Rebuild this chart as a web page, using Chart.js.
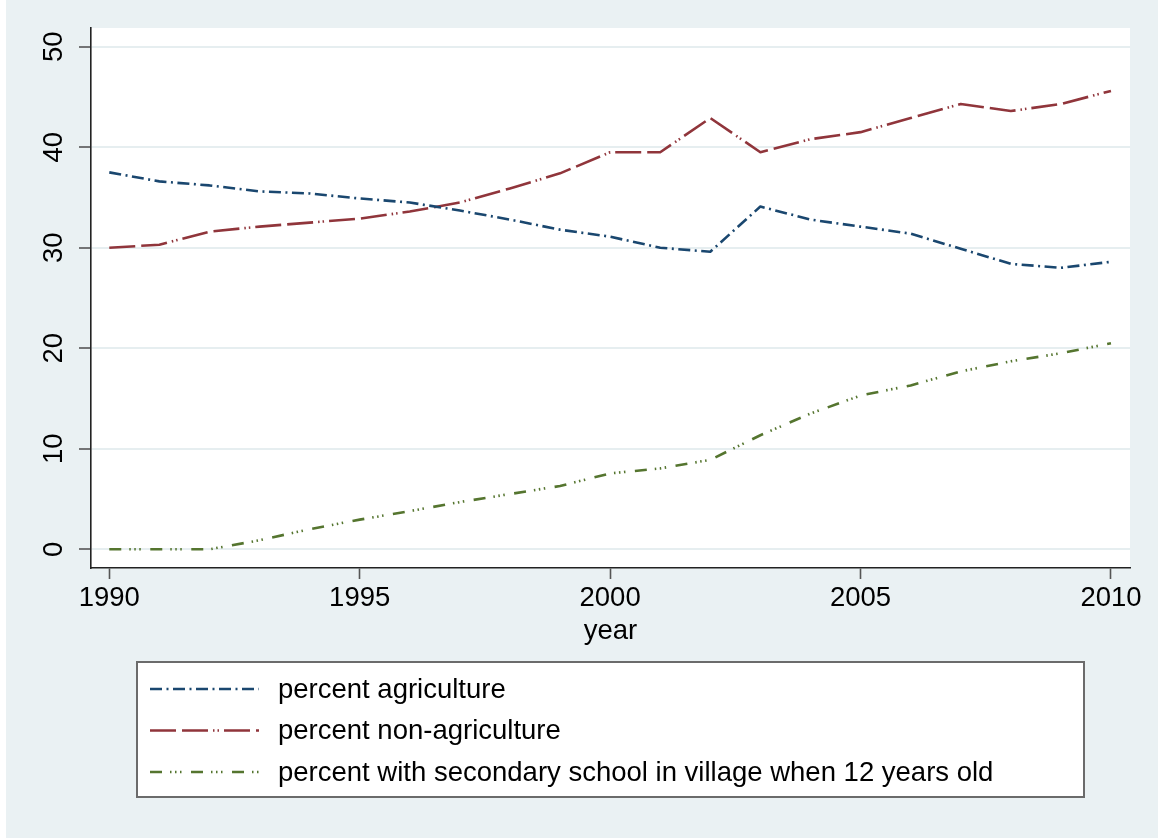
<!DOCTYPE html>
<html>
<head>
<meta charset="utf-8">
<script src="https://cdn.jsdelivr.net/npm/chart.js@4.4.1/dist/chart.umd.min.js"></script>
<style>
  html, body { margin: 0; padding: 0; background: #eaf1f3; }
  canvas { display: block; }
</style>
</head>
<body>
<canvas id="chart" width="1158" height="838"></canvas>
<script>
// Survey years
const years = [1990, 1991, 1992, 1993, 1994, 1995, 1996, 1997, 1998, 1999, 2000,
               2001, 2002, 2003, 2004, 2005, 2006, 2007, 2008, 2009, 2010];

// Shares (percent) by year
const pctAgriculture = [37.5, 36.6, 36.2, 35.6, 35.4, 34.9, 34.5, 33.7, 32.8, 31.8, 31.1,
                        30.0, 29.6, 34.1, 32.8, 32.1, 31.4, 29.9, 28.4, 28.0, 28.6];
const pctNonAgriculture = [30.0, 30.3, 31.6, 32.1, 32.5, 32.9, 33.6, 34.5, 35.9, 37.4, 39.5,
                           39.5, 42.9, 39.5, 40.8, 41.5, 42.9, 44.3, 43.6, 44.3, 45.6];
const pctSecondarySchool = [0, 0, 0, 0.9, 2.0, 2.95, 3.8, 4.7, 5.5, 6.3, 7.55,
                            8.05, 8.9, 11.35, 13.5, 15.3, 16.3, 17.7, 18.7, 19.5, 20.5];

// Axis ticks
const xTicks = [1990, 1995, 2000, 2005, 2010];
const yTicks = [0, 10, 20, 30, 40, 50];

const seriesLabels = [
  'percent agriculture',
  'percent non-agriculture',
  'percent with secondary school in village when 12 years old'
];

const FONT = "'Liberation Sans', Arial, Helvetica, sans-serif";
const FONT_SIZE = 27.5;
const BG = '#eaf1f3';

const toPoints = vals => years.map((yr, i) => ({ x: yr, y: vals[i] }));

// Page background and white plot region
const backdrop = {
  id: 'backdrop',
  beforeDraw(chart) {
    const { ctx, chartArea: a, width, height } = chart;
    ctx.save();
    ctx.fillStyle = BG;
    ctx.fillRect(0, 0, width, height);
    ctx.fillStyle = '#ffffff';
    ctx.fillRect(0, 0, 6, height);
    ctx.fillRect(a.left, a.top, a.right - a.left, a.bottom - a.top);
    ctx.restore();
  }
};

// Framed legend below the axis title, one entry per row
const boxedLegend = {
  id: 'boxedLegend',
  afterDraw(chart) {
    const { ctx, chartArea: a } = chart;
    const cx = (a.left + a.right) / 2;
    const w = 947, h = 135;
    const x0 = Math.round(cx - w / 2), y0 = 662;
    ctx.save();
    ctx.fillStyle = '#ffffff';
    ctx.fillRect(x0, y0, w, h);
    ctx.strokeStyle = '#6b6b6b';
    ctx.lineWidth = 2;
    ctx.strokeRect(x0, y0, w, h);
    chart.data.datasets.forEach((ds, i) => {
      const y = y0 + 27 + i * 41.5;
      ctx.beginPath();
      ctx.setLineDash(ds.borderDash || []);
      ctx.lineWidth = ds.borderWidth;
      ctx.strokeStyle = ds.borderColor;
      ctx.lineCap = 'butt';
      ctx.moveTo(x0 + 13, y);
      ctx.lineTo(x0 + 122, y);
      ctx.stroke();
      ctx.setLineDash([]);
      ctx.fillStyle = '#000000';
      ctx.font = `${FONT_SIZE}px ${FONT}`;
      ctx.textBaseline = 'middle';
      ctx.textAlign = 'left';
      ctx.fillText(ds.label, x0 + 141, y + 1);
    });
    ctx.restore();
  }
};

new Chart(document.getElementById('chart'), {
  type: 'line',
  data: {
    datasets: [
      {
        label: seriesLabels[0],
        data: toPoints(pctAgriculture),
        borderColor: '#1a476f',
        borderWidth: 2.6,
        borderDash: [12, 4.5, 2, 4.5]
      },
      {
        label: seriesLabels[1],
        data: toPoints(pctNonAgriculture),
        borderColor: '#90353b',
        borderWidth: 2.6,
        borderDash: [26, 6, 26, 5, 1.5, 3, 1.5, 5]
      },
      {
        label: seriesLabels[2],
        data: toPoints(pctSecondarySchool),
        borderColor: '#55752f',
        borderWidth: 2.6,
        borderDash: [12, 8, 1.5, 3.5, 1.5, 3.5, 1.5, 9.5]
      }
    ]
  },
  options: {
    responsive: false,
    animation: false,
    devicePixelRatio: 1,
    layout: { padding: { left: 0, right: 28, top: 28, bottom: 190 } },
    elements: {
      point: { radius: 0 },
      line: { tension: 0, borderCapStyle: 'butt', borderJoinStyle: 'round' }
    },
    plugins: {
      legend: { display: false },
      tooltip: { enabled: false }
    },
    scales: {
      x: {
        type: 'linear',
        min: 1989.635,
        max: 2010.38,
        afterBuildTicks(scale) { scale.ticks = xTicks.map(v => ({ value: v })); },
        afterFit(scale) { scale.height = 80; scale.paddingLeft = 0; scale.paddingRight = 0; },
        grid: {
          drawOnChartArea: false,
          drawTicks: true,
          tickLength: 11,
          tickColor: '#555555',
          tickWidth: 1.6
        },
        border: { display: true, color: '#222222', width: 1.6 },
        ticks: {
          font: { family: FONT, size: FONT_SIZE },
          color: '#000000',
          padding: 3,
          maxRotation: 0,
          autoSkip: false,
          callback: v => String(v)
        },
        title: {
          display: true,
          text: 'year',
          font: { family: FONT, size: FONT_SIZE },
          color: '#000000',
          padding: { top: 0, bottom: 0 }
        }
      },
      y: {
        type: 'linear',
        min: -1.86,
        max: 51.86,
        afterBuildTicks(scale) { scale.ticks = yTicks.map(v => ({ value: v })); },
        afterFit(scale) { scale.width = 91; scale.paddingTop = 0; scale.paddingBottom = 0; },
        grid: {
          color: '#e6eef0',
          lineWidth: 2,
          drawTicks: true,
          tickLength: 12,
          tickColor: '#555555',
          tickWidth: 1.6
        },
        border: { display: true, color: '#222222', width: 1.6 },
        ticks: {
          font: { family: FONT, size: FONT_SIZE },
          color: '#000000',
          minRotation: 90,
          maxRotation: 90,
          crossAlign: 'center',
          padding: 9,
          autoSkip: false,
          callback: v => String(v)
        }
      }
    }
  },
  plugins: [backdrop, boxedLegend]
});
</script>
</body>
</html>
